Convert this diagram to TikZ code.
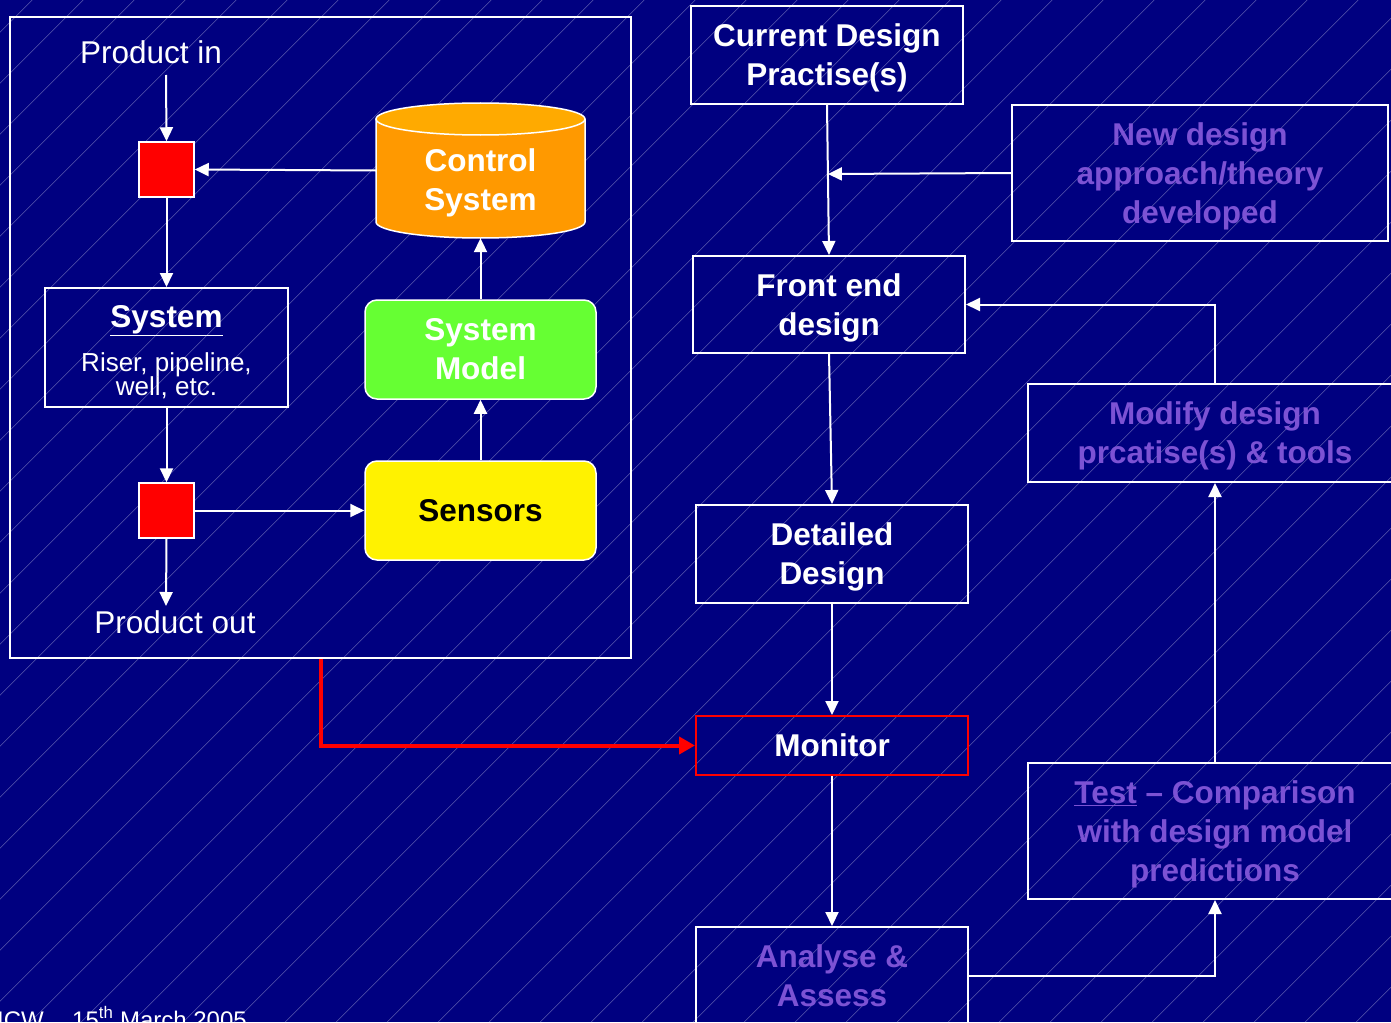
\documentclass[tikz,border=0pt]{standalone}
\usepackage{fontspec}
\setmainfont{Liberation Sans}
\usetikzlibrary{arrows.meta,calc}
\definecolor{bgblue}{RGB}{0,0,128}
\definecolor{streak}{RGB}{90,90,175}
\definecolor{purp}{RGB}{124,82,212}
\definecolor{orbody}{RGB}{255,153,0}
\definecolor{ortop}{RGB}{255,170,0}
\definecolor{grn}{RGB}{102,255,51}
\newcommand{\mytstrut}{\rule{0pt}{29pt}}
\begin{document}
\begin{tikzpicture}[x=1pt,y=-1pt,
  lbl/.style={font=\fontsize{31.5}{39}\selectfont\bfseries, align=center, inner sep=0pt},
  box/.style={lbl, draw=white, line width=2pt},
  pbox/.style={box, text=purp},
  wbox/.style={box, text=white},
  rsq/.style={draw=white, line width=1.5pt, fill=red, minimum size=55pt, inner sep=0pt},
  rbox/.style={lbl, draw=white, line width=1.5pt, rounded corners=12pt, minimum width=231pt, minimum height=99pt},
  conn/.style={draw=white, line width=2pt, -{Triangle[length=14pt,width=13pt]}},
  redconn/.style={draw=red, line width=4pt, -{Triangle[length=16pt,width=17pt]}},
  plaintext/.style={text=white, inner sep=0pt, font=\fontsize{31.5}{39}\selectfont},
]
\useasboundingbox (0,0) rectangle (1391,1022);
\clip (0,0) rectangle (1391,1022);
\fill[bgblue] (0,0) rectangle (1391,1022);
\foreach \k in {-22,...,28} \draw[streak, line width=0.5pt] (81.3+51*\k,1022) -- (1103.3+51*\k,0);

% ---------- left panel ----------
\node[draw=white, line width=2pt, minimum width=621pt, minimum height=641pt, inner sep=0pt] (frame) at (320.5,337.5) {};
\node[plaintext] (pin) at (151,52) {Product in};
\node[rsq] (rs1) at (166.5,169.5) {};
\node[box, minimum width=243pt, minimum height=119pt] (sys) at (166.5,347.5) {};
\node[anchor=base, text=white, inner sep=0pt, font=\fontsize{31.5}{39}\selectfont\bfseries] (systitle) at (166.5,327) {\underline{System}};
\node[anchor=base, text=white, inner sep=0pt, font=\fontsize{26}{24}\selectfont] (sysline1) at (166.5,371) {Riser, pipeline,};
\node[anchor=base, text=white, inner sep=0pt, font=\fontsize{26}{24}\selectfont] (sysline2) at (166.5,395) {well, etc.};
\node[rsq] (rs2) at (166.5,510.5) {};
\node[plaintext] (pout) at (175,622) {Product out};

% control system cylinder
\fill[orbody] (376,119) -- (376,222) .. controls (376,230.84) and (422.8,238) .. (480.5,238)
   .. controls (538.2,238) and (585,230.84) .. (585,222) -- (585,119) -- cycle;
\draw[white, line width=1.5pt] (376,119) -- (376,222) .. controls (376,230.84) and (422.8,238) .. (480.5,238)
   .. controls (538.2,238) and (585,230.84) .. (585,222) -- (585,119);
\draw[white, line width=1.5pt, fill=ortop] (480.5,119) ellipse (104.5 and 16);
\node[minimum width=209pt, minimum height=135pt, inner sep=0pt] (control) at (480.5,170.5) {};
\node[lbl, text=white] (controltext) at (480.5,183) {Control\\System};

\node[rbox, fill=grn, text=white] (model) at (480.5,349.5) {System\\Model};
\node[rbox, fill=yellow, text=black] (sensors) at (480.5,510.5) {Sensors};

\draw[conn] (166,75) -- (rs1.north);
\draw[conn] (control.west) -- (rs1.east);
\draw[conn] (rs1.south) -- (sys.north);
\draw[conn] (sys.south) -- (rs2.north);
\draw[conn] (rs2.east) -- (sensors.west);
\draw[conn] (rs2.south) -- (166,606);
\draw[conn] (sensors.north) -- (model.south);
\draw[conn] (model.north) -- (control.south);

% ---------- right side ----------
\node[wbox, minimum width=272pt, minimum height=98pt] (cur) at (827,55) {\mytstrut Current Design\\Practise(s)};
\node[pbox, minimum width=376pt, minimum height=136pt] (newd) at (1200,173) {\mytstrut New design\\approach/theory\\developed};
\node[wbox, minimum width=272pt, minimum height=97pt] (front) at (829,304.5) {\mytstrut Front end\\design};
\node[pbox, minimum width=374pt, minimum height=98pt] (modify) at (1215,433) {\mytstrut Modify design\\prcatise(s) \& tools};
\node[wbox, minimum width=272pt, minimum height=98pt] (detail) at (832,554) {\mytstrut Detailed\\Design};
\node[lbl, text=white, draw=red, line width=2pt, minimum width=272pt, minimum height=59pt] (monitor) at (832,745.5) {Monitor};
\node[pbox, minimum width=272pt, minimum height=98pt] (analyse) at (832,976) {Analyse \&\\Assess};
\node[pbox, minimum width=374pt, minimum height=136pt] (test) at (1215,831) {\mytstrut\underline{Test} – Comparison\\with design model\\predictions};

\coordinate (j) at ($(cur.south)!0.46!(front.north)$);
\draw[conn] (cur.south) -- (front.north);
\draw[conn] (newd.west) -- (j);
\draw[conn] (modify.north) |- (front.east);
\draw[conn] (front.south) -- (detail.north);
\draw[conn] (detail.south) -- (monitor.north);
\draw[conn] (monitor.south) -- (analyse.north);
\draw[conn] (analyse.east) -| (test.south);
\draw[conn] (test.north) -- (modify.south);
\draw[redconn] (frame.south) |- (monitor.west);

% footer
\node[anchor=base west, text=white, inner sep=0pt, font=\fontsize{24}{28}\selectfont] (ftA) at (-3,1028) {ICW};
\node[anchor=base west, text=white, inner sep=0pt, font=\fontsize{24}{28}\selectfont] (ftB) at (72,1028) {15\textsuperscript{th} March 2005};
\end{tikzpicture}
\end{document}
